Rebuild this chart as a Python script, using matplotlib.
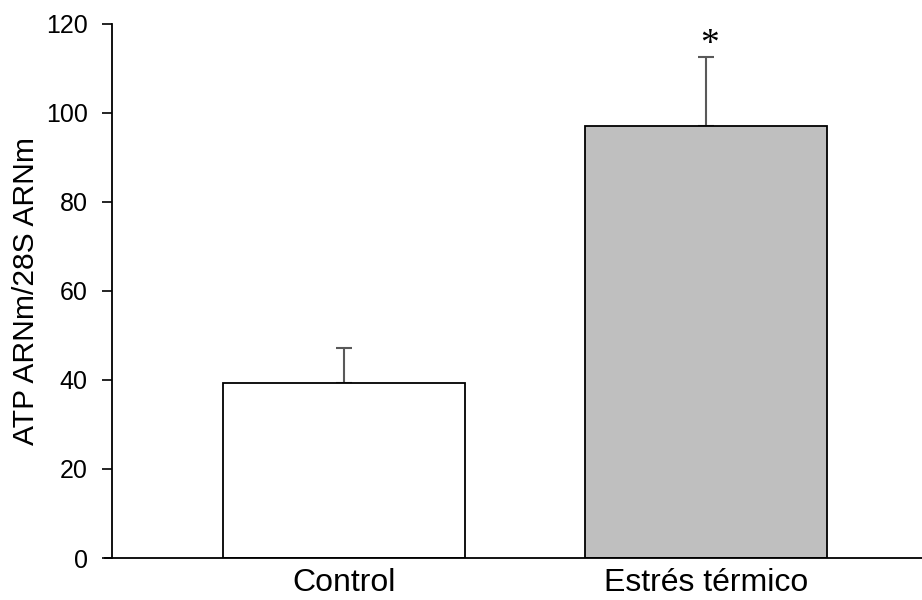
import matplotlib
matplotlib.use("Agg")
import matplotlib.pyplot as plt

# Relative ATP mRNA expression (normalised to 28S rRNA)
categories = ["Control", "Estrés térmico"]
means = [39.2, 97.0]
sem = [8.0, 15.4]
bar_colors = ["#ffffff", "#bfbfbf"]
y_ticks = [0, 20, 40, 60, 80, 100, 120]
significance = ["", "*"]

plt.rcParams["font.family"] = ["Liberation Sans", "DejaVu Sans"]

fig = plt.figure(figsize=(9.22, 6.0), dpi=100)
ax = fig.add_axes([0.1215, 0.07, 0.8785, 0.8907])

x = list(range(len(categories)))
ax.bar(x, means, width=0.67, color=bar_colors, edgecolor="black",
       linewidth=1.3, zorder=2)
ax.errorbar(x, means, yerr=[[0] * len(sem), sem], fmt="none",
            ecolor="#595959", elinewidth=1.5, capsize=6, capthick=1.5,
            zorder=1)

for xi, m, s, mark in zip(x, means, sem, significance):
    if mark:
        ax.annotate(mark, xy=(xi, m + s), xytext=(2.5, 2.5),
                    textcoords="offset points", ha="center", va="baseline",
                    fontsize=27, family=["Liberation Serif", "DejaVu Serif"])

ax.set_xlim(-0.641, 1.596)
ax.set_ylim(0, 120)
ax.set_yticks(y_ticks)
ax.set_xticks(x)
ax.set_xticklabels(categories, fontsize=23)
ax.tick_params(axis="x", length=0, pad=7.5)
ax.tick_params(axis="y", direction="out", length=7, width=1.2,
               labelsize=18, pad=10.5)
ax.set_ylabel("ATP ARNm/28S ARNm", fontsize=21.6)
ax.yaxis.set_label_coords(-0.0888, 0.5)

for side in ("top", "right"):
    ax.spines[side].set_visible(False)
for side in ("left", "bottom"):
    ax.spines[side].set_linewidth(1.3)
ax.spines["bottom"].set_bounds(-0.641 - 7 / 362.5, 1.596)

fig.savefig("out.png", dpi=100)
